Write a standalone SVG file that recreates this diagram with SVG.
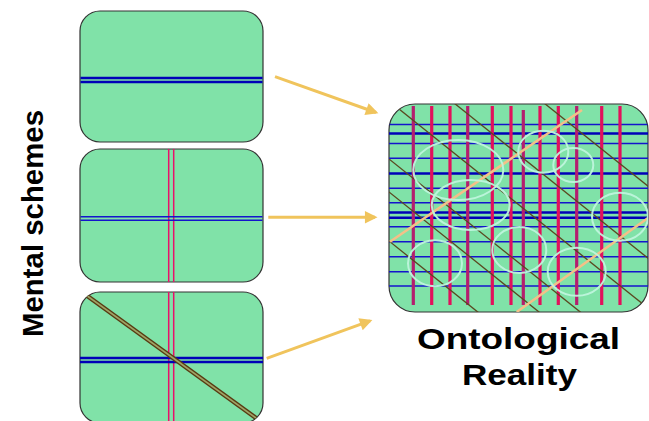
<svg xmlns="http://www.w3.org/2000/svg" width="649" height="421" viewBox="0 0 649 421">
<defs>
<style>
.box{fill:#80E2A8;stroke:#333;stroke-width:1.2}
.blue{stroke:#1414CC;stroke-width:1.6;fill:none}
.blueT{stroke:#0000B8;stroke-width:2.4;fill:none}
.red{stroke:#E2105C;stroke-width:3.2;fill:none}
.redP{stroke:#B41E6E;stroke-width:3.2;fill:none}
.red1{stroke:#E8106A;stroke-width:1.5;fill:none}
.diag{stroke:#5A4820;stroke-width:1.3;fill:none}
.orange{stroke:#F4C088;stroke-width:2.5;fill:none}
.ell{fill:none;stroke:#BEF4DC;stroke-width:2;opacity:0.95}
.arrow{stroke:#F0C45C;stroke-width:3;fill:none;marker-end:url(#ah)}
.lbl{font-family:"Liberation Sans",Arial,sans-serif;font-weight:bold;font-size:29px;fill:#000}
</style>
<marker id="ah" viewBox="0 0 10 10" refX="8" refY="5" markerWidth="5.5" markerHeight="4.2" orient="auto" markerUnits="strokeWidth">
<path d="M0,0 L10,5 L0,10 z" fill="#F0C45C"/>
</marker>
<clipPath id="cbig"><rect x="389" y="104" width="259" height="208" rx="26"/></clipPath>
<clipPath id="c3"><rect x="80" y="292" width="183" height="131" rx="20"/></clipPath>
</defs>
<rect width="649" height="421" fill="#fff"/>

<text class="lbl" transform="translate(43,223.5) rotate(-90)" text-anchor="middle" textLength="227" lengthAdjust="spacingAndGlyphs">Mental schemes</text>

<g id="scheme1">
<rect class="box" x="80" y="11" width="183" height="131" rx="20"/>
<line class="blueT" x1="80.5" y1="78" x2="262.5" y2="78"/>
<line class="blueT" x1="80.5" y1="82" x2="262.5" y2="82"/>
</g>

<g id="scheme2">
<rect class="box" x="80" y="149" width="183" height="133" rx="20"/>
<line class="red1" x1="168.7" y1="149" x2="168.7" y2="282"/>
<line class="red1" x1="173.7" y1="149" x2="173.7" y2="282"/>
<line class="blue" x1="80.5" y1="216.7" x2="262.5" y2="216.7"/>
<line class="blue" x1="80.5" y1="220.3" x2="262.5" y2="220.3"/>
</g>

<g id="scheme3">
<rect class="box" x="80" y="292" width="183" height="131" rx="20"/>
<g clip-path="url(#c3)">
<line class="red1" x1="168.7" y1="292" x2="168.7" y2="423"/>
<line class="red1" x1="173.7" y1="292" x2="173.7" y2="423"/>
<line class="blueT" x1="80" y1="358" x2="263" y2="358"/>
<line class="blueT" x1="80" y1="362" x2="263" y2="362"/>
<line x1="86" y1="295" x2="256" y2="418" stroke="#583A12" stroke-width="4.6"/>
<line x1="86" y1="295" x2="256" y2="418" stroke="#9EA466" stroke-width="1.6"/>
</g>
</g>

<g id="reality">
<rect class="box" x="389" y="104" width="259" height="208" rx="26"/>
<g clip-path="url(#cbig)">
<g>
<line class="blue" x1="389" y1="124.5" x2="648" y2="124.5"/>
<line class="blueT" x1="389" y1="133.5" x2="648" y2="133.5"/>
<line class="blue" x1="389" y1="143.5" x2="648" y2="143.5"/>
<line class="blue" x1="389" y1="158.3" x2="648" y2="158.3"/>
<line class="blueT" x1="389" y1="173.5" x2="648" y2="173.5"/>
<line class="blue" x1="389" y1="188.3" x2="648" y2="188.3"/>
<line class="blue" x1="389" y1="202.7" x2="648" y2="202.7"/>
<line class="blueT" x1="389" y1="212.5" x2="648" y2="212.5"/>
<line class="blueT" x1="389" y1="217.7" x2="648" y2="217.7"/>
<line class="blue" x1="389" y1="226.7" x2="648" y2="226.7"/>
<line class="blue" x1="389" y1="241.7" x2="648" y2="241.7"/>
<line class="blue" x1="389" y1="256.7" x2="648" y2="256.7"/>
<line class="blue" x1="389" y1="271.7" x2="648" y2="271.7"/>
<line class="blue" x1="389" y1="286" x2="648" y2="286"/>
</g>
<g>
<line class="redP" x1="413.3" y1="106" x2="413.3" y2="305"/>
<line class="red" x1="431.7" y1="106" x2="431.7" y2="305"/>
<line class="red" x1="450" y1="106" x2="450" y2="305"/>
<line class="redP" x1="467.7" y1="106" x2="467.7" y2="305"/>
<line class="red" x1="492.3" y1="106" x2="492.3" y2="305"/>
<line class="red" x1="511" y1="106" x2="511" y2="305"/>
<line class="redP" x1="523.3" y1="110" x2="523.3" y2="305"/>
<line class="red" x1="540" y1="106" x2="540" y2="305"/>
<line class="red" x1="558.3" y1="106" x2="558.3" y2="305"/>
<line class="redP" x1="576.7" y1="106" x2="576.7" y2="305"/>
<line class="red" x1="601.7" y1="106" x2="601.7" y2="305"/>
<line class="red" x1="620" y1="106" x2="620" y2="305"/>
</g>
<g>
<line class="diag" x1="389" y1="-21" x2="649" y2="187"/>
<line class="diag" x1="389" y1="51" x2="649" y2="259"/>
<line class="diag" x1="389" y1="101" x2="649" y2="309"/>
<line class="diag" x1="389" y1="159" x2="649" y2="367"/>
<line class="diag" x1="389" y1="192" x2="649" y2="400"/>
<line class="diag" x1="389" y1="241" x2="649" y2="449"/>
</g>
<g>
<line class="orange" x1="390" y1="241.7" x2="582" y2="110"/>
<line class="orange" x1="516.7" y1="312" x2="648" y2="218"/>
</g>
<g>
<ellipse class="ell" cx="458.3" cy="170" rx="45" ry="30"/>
<ellipse class="ell" cx="470.7" cy="205" rx="39" ry="25"/>
<ellipse class="ell" cx="543.3" cy="151.7" rx="25" ry="21"/>
<ellipse class="ell" cx="573.3" cy="165" rx="20" ry="17"/>
<ellipse class="ell" cx="620" cy="216.7" rx="28" ry="24"/>
<ellipse class="ell" cx="519.3" cy="250" rx="27" ry="23"/>
<ellipse class="ell" cx="576.7" cy="271.7" rx="29" ry="24"/>
<ellipse class="ell" cx="435" cy="263.3" rx="27" ry="23"/>
</g>
</g>
</g>

<g id="connectors">
<line class="arrow" x1="275" y1="76.7" x2="376" y2="112.5"/>
<line class="arrow" x1="268.3" y1="217.3" x2="375" y2="217.3"/>
<line class="arrow" x1="266.7" y1="358.3" x2="370" y2="320.8"/>
</g>

<text class="lbl" x="417" y="348.5" textLength="203" lengthAdjust="spacingAndGlyphs" style="font-size:30px">Ontological</text>
<text class="lbl" x="462" y="384.5" textLength="115" lengthAdjust="spacingAndGlyphs" style="font-size:30px">Reality</text>
</svg>
